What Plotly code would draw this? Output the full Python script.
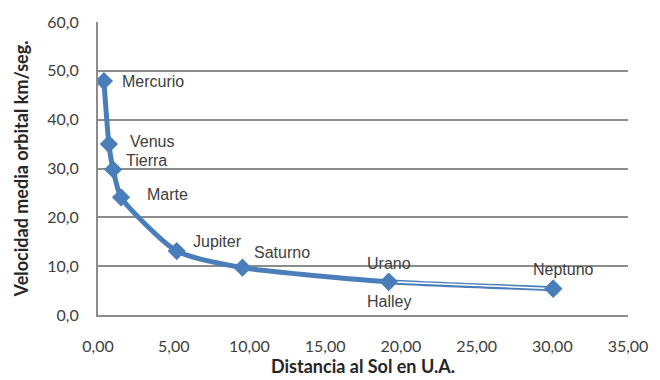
import plotly.graph_objects as go

# Distancia media al Sol (U.A.) y velocidad orbital media (km/s)
planetas = ["Mercurio", "Venus", "Tierra", "Marte", "Jupiter", "Saturno", "Urano", "Neptuno"]
distancia_ua = [0.39, 0.72, 1.00, 1.52, 5.20, 9.54, 19.20, 30.06]
velocidad_kms = [47.9, 35.0, 29.8, 24.1, 13.1, 9.7, 6.8, 5.4]

# Etiqueta del cometa junto a Urano
cometa = "Halley"

# Desplazamientos de cada etiqueta (px) respecto a su marcador
label_dx = [16, 19, 11, 24, 14, 10, 0, 10]
label_dy = [0, 3, 9, 3, 10, 15, 18, 19]
label_anchor = ["left", "left", "left", "left", "left", "left", "center", "center"]

azul = "#4a7ebb"
gris = "#8c8c8c"
texto = "#404040"

fig = go.Figure()

fig.add_trace(go.Scatter(
    x=distancia_ua, y=velocidad_kms,
    mode="lines+markers",
    line=dict(color=azul, width=5, shape="spline", smoothing=0.6),
    marker=dict(symbol="diamond", size=14, color=azul),
    hoverinfo="skip", showlegend=False,
))

# Franja blanca interior en el tramo Urano-Neptuno
fig.add_trace(go.Scatter(
    x=distancia_ua[-2:], y=velocidad_kms[-2:],
    mode="lines",
    line=dict(color="white", width=1.5),
    hoverinfo="skip", showlegend=False,
))
fig.add_trace(go.Scatter(
    x=distancia_ua[-2:], y=velocidad_kms[-2:],
    mode="markers",
    marker=dict(symbol="diamond", size=14, color=azul),
    hoverinfo="skip", showlegend=False,
))

etiqueta_font = dict(family="Liberation Sans, Arial, sans-serif", size=16, color=texto)
for nombre, x, y, dx, dy, anc in zip(planetas, distancia_ua, velocidad_kms,
                                     label_dx, label_dy, label_anchor):
    fig.add_annotation(x=x, y=y, text=nombre, showarrow=False,
                       xanchor=anc, yanchor="middle",
                       xshift=dx, yshift=dy, font=etiqueta_font)

fig.add_annotation(x=distancia_ua[6], y=velocidad_kms[6], text=cometa,
                   showarrow=False, xanchor="center", yanchor="middle",
                   xshift=0, yshift=-20, font=etiqueta_font)

tick_font = dict(family="Lato, 'Open Sans', sans-serif", size=16, color=texto)
title_font = dict(family="Lato, 'Open Sans', sans-serif", size=18, color="#262626")

fig.update_layout(
    width=660, height=380,
    margin=dict(l=98, r=21, t=16, b=63),
    paper_bgcolor="white", plot_bgcolor="white",
    separators=",.",
    xaxis=dict(
        range=[0, 35], dtick=5, tick0=0, tickformat=".2f",
        showgrid=False, zeroline=False,
        showline=True, linecolor=gris, linewidth=2,
        ticks="", ticklabelstandoff=16,
        tickfont=tick_font,
        title=dict(text="<b>Distancia al Sol en U.A.</b>", font=title_font, standoff=0),
    ),
    yaxis=dict(
        range=[0, 60], dtick=10, tick0=0, tickformat=".1f",
        showgrid=True, gridcolor=gris, gridwidth=2,
        zeroline=False,
        showline=True, linecolor=gris, linewidth=2,
        ticks="", ticklabelstandoff=14,
        tickfont=tick_font,
        title=dict(text="<b>Velocidad media orbital km/seg.</b>", font=title_font, standoff=14),
    ),
)

fig.write_html("out.html")
